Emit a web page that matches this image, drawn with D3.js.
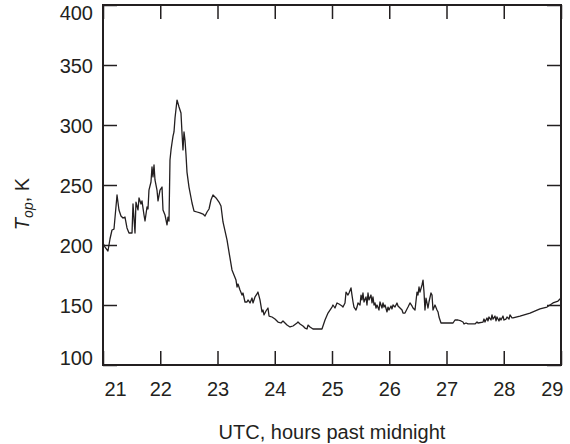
<!DOCTYPE html>
<html>
<head>
<meta charset="utf-8">
<script src="https://cdn.jsdelivr.net/npm/d3@7"></script>
<style>
  html, body { margin: 0; padding: 0; background: #fff; }
  svg { display: block; font-family: "Liberation Sans", Arial, Helvetica, sans-serif; }
</style>
</head>
<body>
<svg id="chart" width="570" height="444"></svg>
<script>
// Operating temperature record, hours after midnight UTC
const hours = [
  21.000, 21.035, 21.087, 21.122, 21.157, 21.192, 21.245, 21.279, 21.314, 21.349,
  21.384, 21.419, 21.454, 21.507, 21.524, 21.559, 21.576, 21.611, 21.629, 21.664,
  21.681, 21.716, 21.734, 21.769, 21.786, 21.803, 21.838, 21.856, 21.873, 21.891,
  21.908, 21.943, 21.961, 21.996, 22.031, 22.048, 22.083, 22.118, 22.135, 22.153,
  22.170, 22.188, 22.205, 22.223, 22.240, 22.258, 22.293, 22.328, 22.362, 22.380,
  22.397, 22.415, 22.432, 22.450, 22.467, 22.502, 22.555, 22.590, 22.642, 22.694,
  22.747, 22.782, 22.817, 22.852, 22.886, 22.921, 22.974, 23.026, 23.061, 23.096,
  23.166, 23.218, 23.253, 23.288, 23.323, 23.341, 23.358, 23.393, 23.428, 23.445,
  23.480, 23.515, 23.533, 23.568, 23.603, 23.620, 23.655, 23.690, 23.707, 23.742,
  23.777, 23.795, 23.812, 23.847, 23.882, 23.900, 23.952, 24.004, 24.057, 24.109,
  24.144, 24.179, 24.214, 24.266, 24.319, 24.389, 24.406, 24.441, 24.493, 24.528,
  24.563, 24.581, 24.616, 24.668, 24.825, 24.878, 24.930, 25.000, 25.017, 25.052,
  25.087, 25.122, 25.175, 25.192, 25.227, 25.245, 25.279, 25.297, 25.332, 25.349,
  25.367, 25.384, 25.419, 25.437, 25.454, 25.489, 25.507, 25.524, 25.541, 25.559,
  25.594, 25.611, 25.629, 25.646, 25.681, 25.699, 25.716, 25.734, 25.751, 25.769,
  25.786, 25.821, 25.838, 25.873, 25.891, 25.908, 25.926, 25.961, 25.978, 25.996,
  26.031, 26.048, 26.066, 26.100, 26.135, 26.153, 26.188, 26.223, 26.240, 26.275,
  26.310, 26.328, 26.362, 26.397, 26.415, 26.450, 26.485, 26.502, 26.520, 26.537,
  26.572, 26.590, 26.607, 26.624, 26.642, 26.659, 26.677, 26.694, 26.729, 26.747,
  26.764, 26.799, 26.834, 26.852, 26.869, 26.904, 27.114, 27.148, 27.201, 27.253,
  27.288, 27.306, 27.341, 27.376, 27.498, 27.533, 27.550, 27.638, 27.655, 27.672,
  27.707, 27.725, 27.742, 27.777, 27.795, 27.812, 27.847, 27.865, 27.882, 27.917,
  27.934, 27.952, 27.987, 28.004, 28.039, 28.057, 28.092, 28.109, 28.144, 28.162,
  28.284, 28.459, 28.633, 28.755, 28.860, 28.948, 29.000
];

const tempK = [
  201.7, 198.3, 195.0, 205.0, 212.5, 213.3, 241.7, 229.2, 224.2, 222.5,
  223.3, 214.2, 210.0, 210.0, 234.2, 210.0, 235.8, 229.2, 239.2, 234.2,
  236.7, 225.0, 220.0, 231.7, 230.0, 245.8, 252.5, 265.0, 256.7, 266.7,
  254.2, 245.8, 236.7, 245.8, 248.3, 229.2, 225.0, 216.7, 223.3, 220.0,
  270.8, 279.2, 285.0, 290.8, 294.2, 305.8, 320.8, 315.0, 310.0, 293.3,
  279.2, 294.2, 287.5, 275.0, 260.8, 248.3, 235.0, 228.3, 227.5, 226.7,
  225.8, 224.2, 227.5, 230.0, 237.5, 241.7, 239.2, 235.8, 232.5, 219.2,
  204.2, 189.2, 179.2, 175.0, 170.8, 165.0, 167.5, 162.5, 158.3, 160.0,
  152.5, 152.5, 154.2, 151.7, 155.8, 151.7, 156.7, 159.2, 160.8, 154.2,
  144.2, 145.8, 141.7, 145.0, 147.5, 140.8, 140.0, 138.3, 135.8, 135.0,
  136.7, 135.0, 133.3, 131.7, 132.5, 135.0, 135.8, 134.2, 132.5, 130.8,
  130.0, 133.3, 131.7, 130.0, 130.0, 137.5, 143.3, 148.3, 150.0, 147.5,
  151.7, 150.8, 149.2, 148.3, 151.7, 160.8, 158.3, 160.0, 164.2, 158.3,
  152.5, 148.3, 145.8, 148.3, 151.7, 150.0, 158.3, 154.2, 160.0, 152.5,
  156.7, 150.0, 160.0, 154.2, 158.3, 151.7, 156.7, 150.0, 151.7, 147.5,
  150.0, 145.8, 152.5, 147.5, 151.7, 148.3, 150.0, 144.2, 148.3, 145.8,
  149.2, 146.7, 150.0, 148.3, 151.7, 149.2, 147.5, 145.8, 143.3, 143.3,
  146.7, 148.3, 151.7, 149.2, 147.5, 145.8, 160.8, 158.3, 165.0, 160.8,
  166.7, 170.8, 160.8, 145.8, 155.8, 151.7, 147.5, 152.5, 160.0, 158.3,
  145.8, 150.0, 145.8, 144.2, 140.0, 135.0, 135.0, 137.5, 137.5, 136.7,
  135.8, 134.2, 135.0, 134.2, 134.2, 135.8, 135.0, 135.8, 138.3, 135.8,
  139.2, 136.7, 140.0, 137.5, 141.7, 138.3, 140.8, 136.7, 140.0, 136.7,
  139.2, 137.5, 140.8, 137.5, 138.3, 140.0, 138.3, 141.7, 139.2, 139.2,
  140.8, 143.3, 146.7, 148.3, 151.7, 153.3, 155.8
];

const xTicks = [21, 22, 23, 24, 25, 26, 27, 28, 29];
const yTicks = [100, 150, 200, 250, 300, 350, 400];
const xTitle = "UTC, hours past midnight";

const svg = d3.select("#chart");
const margin = { left: 103, right: 9, top: 5, bottom: 79 };
const W = 570, H = 444;
const x = d3.scaleLinear().domain([21, 29]).range([margin.left, W - margin.right]);
const y = d3.scaleLinear().domain([100, 400]).range([H - margin.bottom, margin.top]);

const ink = "#231f20";
const tickLen = 14;

function styleAxis(g) {
  g.select(".domain").remove();
  g.selectAll(".tick line").attr("stroke", ink).attr("stroke-width", 1.5);
  g.selectAll(".tick text").attr("fill", ink).style("font-size", "20px")
    .style("font-family", "'Liberation Sans', Arial, Helvetica, sans-serif");
}

// bottom axis with labels
const gx = svg.append("g")
  .attr("transform", `translate(0,${y(100)})`)
  .call(d3.axisBottom(x).tickValues(xTicks).tickFormat(d3.format("d"))
    .tickSizeInner(-tickLen).tickSizeOuter(0).tickPadding(17))
  .call(styleAxis);
// end labels sit inside the frame
gx.selectAll(".tick text")
  .attr("text-anchor", d => d === 21 ? "start" : d === 29 ? "end" : "middle")
  .attr("dx", d => d === 21 ? 1 : d === 29 ? 2 : 0);

// top axis, ticks only
svg.append("g")
  .attr("transform", `translate(0,${y(400)})`)
  .call(d3.axisTop(x).tickValues(xTicks).tickFormat("")
    .tickSizeInner(-tickLen).tickSizeOuter(0))
  .call(styleAxis);

// left axis with labels
const gy = svg.append("g")
  .attr("transform", `translate(${x(21)},0)`)
  .call(d3.axisLeft(y).tickValues(yTicks).tickFormat(d3.format("d"))
    .tickSizeInner(-tickLen).tickSizeOuter(0).tickPadding(10))
  .call(styleAxis);
gy.selectAll(".tick text")
  .attr("dy", d => d === 400 ? "0.72em" : d === 100 ? "-0.05em" : "0.35em");

// right axis, ticks only
svg.append("g")
  .attr("transform", `translate(${x(29)},0)`)
  .call(d3.axisRight(y).tickValues(yTicks).tickFormat("")
    .tickSizeInner(-tickLen).tickSizeOuter(0))
  .call(styleAxis);

// frame
svg.append("rect")
  .attr("x", x(21)).attr("y", y(400))
  .attr("width", x(29) - x(21)).attr("height", y(100) - y(400))
  .attr("fill", "none").attr("stroke", ink).attr("stroke-width", 2);

// temperature trace
const line = d3.line()
  .x((d, i) => x(hours[i]))
  .y(d => y(d));
svg.append("path")
  .datum(tempK)
  .attr("d", line)
  .attr("fill", "none")
  .attr("stroke", ink)
  .attr("stroke-width", 1.3)
  .attr("stroke-linejoin", "round");

// axis titles
svg.append("text")
  .attr("x", (x(21) + x(29)) / 2)
  .attr("y", 439)
  .attr("text-anchor", "middle")
  .attr("fill", ink)
  .style("font-size", "20px")
  .text(xTitle);

const yt = svg.append("text")
  .attr("transform", "translate(29,204) rotate(-90)")
  .attr("text-anchor", "middle")
  .attr("fill", ink)
  .style("font-size", "20px");
yt.append("tspan").style("font-style", "italic").text("T");
yt.append("tspan").style("font-style", "italic").style("font-size", "14px")
  .attr("dy", 4).text("op");
yt.append("tspan").attr("dy", -4).text(", K");
</script>
</body>
</html>
